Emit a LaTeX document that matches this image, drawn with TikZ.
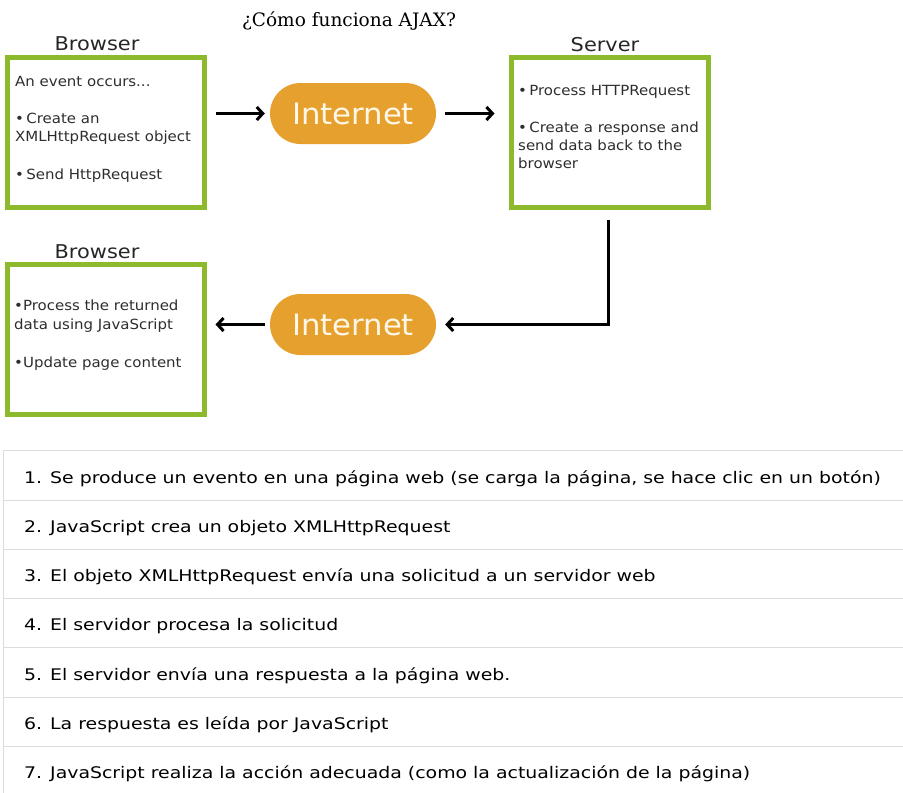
\documentclass[tikz,border=0pt]{standalone}
\usepackage{fontspec}
\setmainfont{DejaVu Sans}
\newfontfamily\titlefont{DejaVu Serif}
\newfontfamily\boxfont[FakeStretch=1.07]{DejaVu Sans}
\newfontfamily\lblfont[FakeStretch=1.1]{DejaVu Sans}
\newfontfamily\rowfont[FakeStretch=1.18]{DejaVu Sans}
\newfontfamily\inetfont[FakeStretch=1.04]{DejaVu Sans}
\usetikzlibrary{arrows.meta,shapes.misc}
\definecolor{boxgreen}{RGB}{141,186,45}
\definecolor{inetorange}{RGB}{230,160,46}
\definecolor{inettext}{RGB}{255,248,232}
\definecolor{textgray}{RGB}{45,45,45}
\definecolor{rulegray}{RGB}{220,220,220}
\begin{document}
\begin{tikzpicture}[x=1pt,y=-1pt,
  box/.style={draw=boxgreen, line width=5pt, minimum width=197pt, minimum height=150pt, inner sep=0pt},
  inet/.style={rounded rectangle, fill=inetorange, minimum width=166pt, minimum height=61pt, inner sep=0pt, text=inettext, font=\inetfont\fontsize{29.5}{30}\selectfont},
  lbl/.style={anchor=base, font=\lblfont\fontsize{19}{21}\selectfont, text=black!85, inner sep=0pt},
  bt/.style={anchor=base west, font=\boxfont\fontsize{14}{16}\selectfont, text=textgray, inner sep=0pt},
  conn/.style={line width=3pt, -{Straight Barb[length=6pt,width=13pt]}},
  rowtxt/.style={anchor=base west, font=\rowfont\fontsize{16}{18}\selectfont, inner sep=0pt},
  rulel/.style={draw=rulegray, line width=1pt}]
\useasboundingbox (0,0) rectangle (903,793);

% title
\node[anchor=base, inner sep=0pt, font=\titlefont\fontsize{18.5}{20}\selectfont] (title) at (349,26) {¿Cómo funciona AJAX?};

% boxes
\node[box] (b1) at (106,132.5) {};
\node[box] (srv) at (610,132.5) {};
\node[box] (b2) at (106,339) {};

\node[lbl] (lb1) at (97,50) {Browser};
\node[lbl] (lsrv) at (605,51) {Server};
\node[lbl] (lb2) at (97,258) {Browser};

% internet
\node[inet] (inet1) at (353,113.5) {Internet};
\node[inet] (inet2) at (353,324.5) {Internet};

% box texts
\node[bt] (t1a) at (15,86) {An event occurs...};
\node[bt] (t1b) at (15,123) {•\,Create an};
\node[bt] (t1c) at (15,141.5) {XMLHttpRequest object};
\node[bt] (t1d) at (15,179) {•\,Send HttpRequest};

\node[bt] (t2a) at (518,95) {•\,Process HTTPRequest};
\node[bt] (t2b) at (518,132) {•\,Create a response and};
\node[bt] (t2c) at (518,150) {send data back to the};
\node[bt] (t2d) at (518,168) {browser};

\node[bt] (t3a) at (14,310) {•Process the returned};
\node[bt] (t3b) at (14,329) {data using JavaScript};
\node[bt] (t3c) at (14,367) {•Update page content};

% connectors
\draw[conn, shorten <=8.5pt, shorten >=5pt] (inet1.west -| b1.east) -- (inet1.west);
\draw[conn, shorten <=9pt, shorten >=14.5pt] (inet1.east) -- (inet1.east -| srv.west);
\draw[conn, shorten <=9.5pt, shorten >=9pt] ([xshift=-2pt]srv.south) |- (inet2.east);
\draw[conn, shorten <=5pt, shorten >=8.5pt] (inet2.west) -- (inet2.west -| b2.east);

% table
\draw[rulel] (3,450) -- (3,793);
\foreach \yy in {450,500,549.3,598.6,647.9,697.2,746.5} \draw[rulel] (3,\yy) -- (903,\yy);

\node[rowtxt] (r1) at (24,483) {1. Se produce un evento en una página web (se carga la página, se hace clic en un botón)};
\node[rowtxt] (r2) at (24,532.3) {2. JavaScript crea un objeto XMLHttpRequest};
\node[rowtxt] (r3) at (24,581.6) {3. El objeto XMLHttpRequest envía una solicitud a un servidor web};
\node[rowtxt] (r4) at (24,630.9) {4. El servidor procesa la solicitud};
\node[rowtxt] (r5) at (24,680.2) {5. El servidor envía una respuesta a la página web.};
\node[rowtxt] (r6) at (24,729.5) {6. La respuesta es leída por JavaScript};
\node[rowtxt] (r7) at (24,778.8) {7. JavaScript realiza la acción adecuada (como la actualización de la página)};
\end{tikzpicture}
\end{document}
